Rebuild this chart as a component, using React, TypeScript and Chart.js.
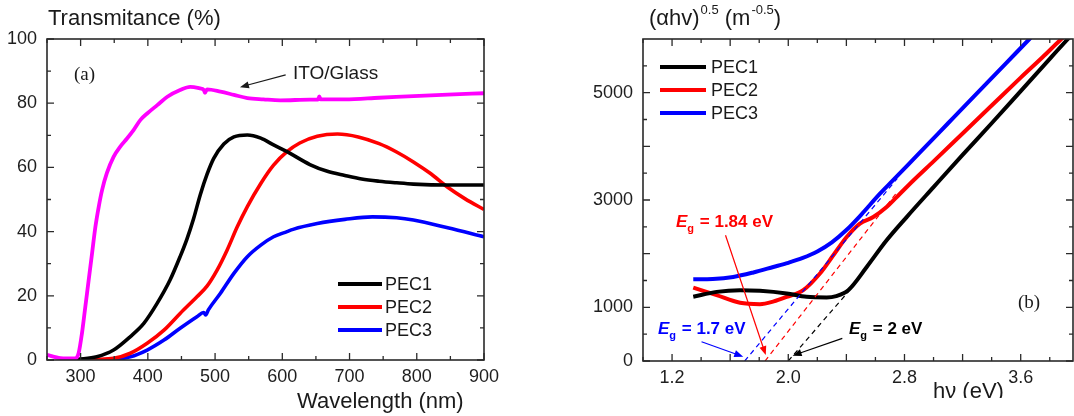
import React, { useEffect, useRef } from 'react';
import { Chart, registerables } from 'chart.js';
Chart.register(...registerables);

const SANS = "Arial, 'Liberation Sans', sans-serif";
const SERIF = "'Times New Roman', 'Liberation Serif', serif";

// ---------------- Panel (a): Transmittance vs wavelength ----------------
const itoWl = [250, 270, 292, 297, 302, 307, 312, 317, 322, 327, 332, 339, 349, 359, 369, 379, 389, 399, 414, 429, 448, 463, 478, 483, 485, 488, 508, 528, 548, 572, 597, 641, 653, 655, 657, 693, 744, 795, 846, 900];
const itoT = [1.6, 0.6, 0.5, 2.1, 8.3, 16.6, 24.9, 33.2, 41.5, 47.8, 53, 58.2, 63.3, 66.5, 69, 71.7, 74.8, 76.8, 79.4, 82, 84.1, 85.1, 84.6, 84.2, 83.2, 84.3, 83.6, 82.6, 81.6, 81.2, 80.9, 81.1, 81.1, 82.1, 81.2, 81.2, 81.7, 82.2, 82.7, 83.1];

const pec1Wl = [295, 324, 349, 374, 394, 414, 433, 448, 458, 468, 478, 488, 498, 513, 528, 548, 568, 587, 607, 641, 667, 693, 718, 744, 770, 795, 846, 900];
const pec1T = [0.2, 1.0, 3.1, 7.3, 11.4, 17.7, 24.9, 32.2, 37.6, 44, 51.5, 57.8, 62.8, 67.3, 69.5, 70.1, 69.1, 67, 64.9, 60.9, 58.8, 57.5, 56.4, 55.7, 55.2, 54.8, 54.5, 54.5];

const pec2Wl = [295, 324, 349, 374, 399, 424, 448, 473, 488, 503, 518, 533, 548, 568, 587, 607, 626, 652, 682, 713, 744, 770, 795, 821, 846, 872, 900];
const pec2T = [0.1, 0.2, 0.5, 2.1, 5.2, 9.3, 14.5, 19.7, 23.0, 28, 34.3, 41.5, 47.8, 55, 60.7, 64.9, 67.6, 69.7, 70.4, 69.5, 67.4, 64.8, 61.7, 58.0, 53.8, 50.2, 46.9];

const pec3Wl = [295, 349, 374, 399, 424, 448, 473, 483, 486, 490, 508, 528, 548, 568, 587, 607, 616, 652, 693, 734, 770, 795, 846, 900];
const pec3T = [0.0, 0.2, 1.0, 3.1, 6.2, 9.9, 13.5, 14.8, 14.0, 15.6, 20.8, 27, 32.2, 35.8, 38.4, 40, 40.7, 42.5, 43.8, 44.6, 44.3, 43.6, 41.2, 38.4];

const aXMajor = [300, 400, 500, 600, 700, 800, 900];
const aXMinor = [250, 350, 450, 550, 650, 750, 850];
const aYMajor = [0, 20, 40, 60, 80, 100];
const aYMinor = [10, 30, 50, 70, 90];

// ---------------- Panel (b): Tauc plot ----------------
const b1E = [1.346, 1.507, 1.668, 1.805, 1.989, 2.126, 2.264, 2.33, 2.413, 2.54, 2.677, 2.815, 3.0, 3.2, 3.4, 3.6, 3.8, 3.925, 3.96];
const b1Y = [1196, 1288, 1320, 1307, 1258, 1196, 1184, 1210, 1320, 1752, 2249, 2682, 3240, 3840, 4430, 5030, 5630, 6000, 6100];

const b2E = [1.346, 1.507, 1.668, 1.805, 1.9, 1.989, 2.103, 2.218, 2.31, 2.402, 2.493, 2.585, 2.677, 2.769, 2.861, 3.0, 3.2, 3.4, 3.6, 3.75, 3.88, 3.93];
const b2Y = [1369, 1227, 1084, 1059, 1110, 1195, 1320, 1630, 1970, 2310, 2559, 2682, 2868, 3117, 3364, 3720, 4240, 4760, 5280, 5660, 6000, 6120];

const b3E = [1.346, 1.48, 1.621, 1.76, 1.897, 2.0, 2.1, 2.2, 2.3, 2.4, 2.5, 2.631, 2.72, 2.9, 3.1, 3.3, 3.5, 3.66, 3.7];
const b3Y = [1524, 1530, 1567, 1650, 1752, 1830, 1920, 2040, 2210, 2440, 2720, 3117, 3364, 3870, 4430, 4990, 5550, 6000, 6110];

// linear extrapolations (band gap fits)
const fit1E = [2.0, 2.413];
const fit1Y = [0, 1290];
const fit2E = [1.84, 2.75];
const fit2Y = [0, 3150];
const fit3E = [1.7, 2.75];
const fit3Y = [0, 3400];

const bXMajor = [1.2, 2.0, 2.8, 3.6];
const bXMid = [1.6, 2.4, 3.2];
const bXMinor = [1.0, 1.4, 1.8, 2.2, 2.6, 3.0, 3.4, 3.8];
const bYMajor = [0, 1000, 3000, 5000];
const bYMid = [2000, 4000];
const bYMinor = [500, 1500, 2500, 3500, 4500, 5500];

const seriesNames = ['PEC1', 'PEC2', 'PEC3'];
const seriesColors = ['#000000', '#ff0000', '#0000ff'];
const itoColor = '#ff00ff';

const pts = (xs: number[], ys: number[]) => xs.map((x, i) => ({ x, y: ys[i] }));

function arrow(ctx: CanvasRenderingContext2D, x0: number, y0: number, x1: number, y1: number, color: string) {
  const ang = Math.atan2(y1 - y0, x1 - x0);
  const hl = 9, hw = 3.5;
  ctx.save();
  ctx.strokeStyle = color;
  ctx.fillStyle = color;
  ctx.lineWidth = 1.2;
  ctx.beginPath();
  ctx.moveTo(x0, y0);
  ctx.lineTo(x1 - Math.cos(ang) * hl * 0.8, y1 - Math.sin(ang) * hl * 0.8);
  ctx.stroke();
  ctx.beginPath();
  ctx.moveTo(x1, y1);
  ctx.lineTo(x1 - Math.cos(ang) * hl - Math.sin(ang) * hw, y1 - Math.sin(ang) * hl + Math.cos(ang) * hw);
  ctx.lineTo(x1 - Math.cos(ang) * hl + Math.sin(ang) * hw, y1 - Math.sin(ang) * hl - Math.cos(ang) * hw);
  ctx.closePath();
  ctx.fill();
  ctx.restore();
}

type TickSet = { v: number[]; len: number };

function framePlugin(ticksX: TickSet[], ticksY: TickSet[], legend: { x0: number; x1: number; ys: number[]; tx: number }, extra: (ctx: CanvasRenderingContext2D, chart: any) => void) {
  return {
    id: 'frameDeco',
    afterDatasetsDraw(chart: any) {
      const { ctx, chartArea: a, scales } = chart;
      const xs = scales.x, ys = scales.y;
      ctx.save();
      ctx.strokeStyle = '#2a2a2a';
      ctx.lineWidth = 1.6;
      ctx.strokeRect(a.left, a.top, a.right - a.left, a.bottom - a.top);
      ctx.lineWidth = 1.3;
      ctx.beginPath();
      ticksX.forEach((t) => t.v.forEach((v) => {
        const p = xs.getPixelForValue(v);
        if (p < a.left - 0.5 || p > a.right + 0.5) return;
        ctx.moveTo(p, a.bottom); ctx.lineTo(p, a.bottom - t.len);
        ctx.moveTo(p, a.top); ctx.lineTo(p, a.top + t.len);
      }));
      ticksY.forEach((t) => t.v.forEach((v) => {
        const p = ys.getPixelForValue(v);
        if (p < a.top - 0.5 || p > a.bottom + 0.5) return;
        ctx.moveTo(a.left, p); ctx.lineTo(a.left + t.len, p);
        ctx.moveTo(a.right, p); ctx.lineTo(a.right - t.len, p);
      }));
      ctx.stroke();
      // legend
      ctx.font = `18px ${SANS}`;
      ctx.textBaseline = 'middle';
      ctx.textAlign = 'left';
      seriesNames.forEach((n, i) => {
        ctx.strokeStyle = seriesColors[i];
        ctx.lineWidth = 4;
        ctx.beginPath();
        ctx.moveTo(legend.x0, legend.ys[i]);
        ctx.lineTo(legend.x1, legend.ys[i]);
        ctx.stroke();
        ctx.fillStyle = '#1a1a1a';
        ctx.fillText(n, legend.tx, legend.ys[i] + 1);
      });
      extra(ctx, chart);
      ctx.restore();
    },
  };
}

function drawEg(ctx: CanvasRenderingContext2D, x: number, base: number, value: string, color: string) {
  ctx.fillStyle = color;
  ctx.textBaseline = 'alphabetic';
  ctx.textAlign = 'left';
  ctx.font = `italic bold 17px ${SANS}`;
  ctx.fillText('E', x, base);
  let cx = x + ctx.measureText('E').width;
  ctx.font = `bold 11px ${SANS}`;
  ctx.fillText('g', cx, base + 5);
  cx += ctx.measureText('g').width + 1;
  ctx.font = `bold 17px ${SANS}`;
  ctx.fillText(` = ${value} eV`, cx, base);
}

const tickFont = { family: SANS, size: 18 };

function baseOptions(o: any) {
  return {
    responsive: false,
    maintainAspectRatio: false,
    animation: false,
    devicePixelRatio: 1,
    layout: { padding: o.padding },
    plugins: { legend: { display: false }, tooltip: { enabled: false }, title: { display: false } },
    elements: { point: { radius: 0 } },
    scales: {
      x: {
        type: 'linear',
        min: o.xMin,
        max: o.xMax,
        grid: { display: false, drawTicks: false },
        border: { display: false },
        ticks: { font: tickFont, color: '#1e1e1e', padding: 6, autoSkip: false, maxRotation: 0, callback: o.xFmt },
        afterBuildTicks: (s: any) => { s.ticks = o.xLabels.map((v: number) => ({ value: v })); },
        afterFit: (s: any) => { s.height = o.xH; },
      },
      y: {
        type: 'linear',
        min: o.yMin,
        max: o.yMax,
        grid: { display: false, drawTicks: false },
        border: { display: false },
        ticks: { font: tickFont, color: '#1e1e1e', padding: 10, autoSkip: false, callback: (v: number) => String(v) },
        afterBuildTicks: (s: any) => { s.ticks = o.yLabels.map((v: number) => ({ value: v })); },
        afterFit: (s: any) => { s.width = o.yW; },
      },
    },
  };
}

const curve = (data: any, color: string, w = 3.6) => ({
  data,
  borderColor: color,
  backgroundColor: color,
  borderWidth: w,
  pointRadius: 0,
  cubicInterpolationMode: 'monotone',
  fill: false,
  clip: 0,
});

const dashed = (data: any, color: string) => ({
  data,
  borderColor: color,
  borderWidth: 1.2,
  borderDash: [5, 4],
  pointRadius: 0,
  tension: 0,
  fill: false,
  clip: 0,
});

export default function App() {
  const refA = useRef<HTMLCanvasElement>(null);
  const refB = useRef<HTMLCanvasElement>(null);

  useEffect(() => {
    const pluginA = framePlugin(
      [{ v: aXMajor, len: 7 }, { v: aXMinor, len: 4 }],
      [{ v: aYMajor, len: 7 }, { v: aYMinor, len: 4 }],
      { x0: 338, x1: 382, ys: [284, 307, 330], tx: 385 },
      (ctx, chart) => {
        const xs = chart.scales.x, ys = chart.scales.y;
        ctx.fillStyle = '#1a1a1a';
        ctx.textAlign = 'left';
        ctx.textBaseline = 'alphabetic';
        ctx.font = `22px ${SANS}`;
        ctx.fillText('Transmitance (%)', 48, 25);
        ctx.fillText('Wavelength (nm)', 297, 408);
        ctx.font = `19px ${SERIF}`;
        ctx.textBaseline = 'middle';
        ctx.fillText('(a)', 74, 75);
        ctx.font = `19px ${SANS}`;
        ctx.fillText('ITO/Glass', 293, 74);
        arrow(ctx, xs.getPixelForValue(605), ys.getPixelForValue(88.8), xs.getPixelForValue(537), ys.getPixelForValue(85), '#1a1a1a');
      }
    );
    const chartA = new Chart(refA.current as HTMLCanvasElement, {
      type: 'line',
      data: {
        datasets: [
          curve(pts(itoWl, itoT), itoColor, 3.8),
          curve(pts(pec1Wl, pec1T), seriesColors[0]),
          curve(pts(pec2Wl, pec2T), seriesColors[1]),
          curve(pts(pec3Wl, pec3T), seriesColors[2]),
        ],
      },
      options: baseOptions({
        padding: { left: 0, right: 56, top: 39, bottom: 0 },
        xMin: 250, xMax: 900, yMin: 0, yMax: 100,
        xLabels: aXMajor, yLabels: aYMajor,
        xFmt: (v: number) => String(v),
        xH: 56, yW: 47,
      }) as any,
      plugins: [pluginA as any],
    });

    const pluginB = framePlugin(
      [{ v: bXMajor, len: 7 }, { v: bXMid, len: 7 }, { v: bXMinor, len: 4 }],
      [{ v: bYMajor, len: 7 }, { v: bYMid, len: 7 }, { v: bYMinor, len: 4 }],
      { x0: 120, x1: 166, ys: [67, 90, 113], tx: 171 },
      (ctx, chart) => {
        const xs = chart.scales.x, ys = chart.scales.y;
        ctx.fillStyle = '#1a1a1a';
        ctx.textAlign = 'left';
        ctx.textBaseline = 'alphabetic';
        // y title with superscripts
        let cx = 109;
        ctx.font = `22px ${SANS}`;
        ctx.fillText('(\u03b1hv)', cx, 25);
        cx += ctx.measureText('(\u03b1hv)').width + 1;
        ctx.font = `13px ${SANS}`;
        ctx.fillText('0.5', cx, 14);
        cx += ctx.measureText('0.5').width;
        ctx.font = `22px ${SANS}`;
        ctx.fillText(' (m', cx, 25);
        cx += ctx.measureText(' (m').width + 1;
        ctx.font = `13px ${SANS}`;
        ctx.fillText('-0.5', cx, 14);
        cx += ctx.measureText('-0.5').width;
        ctx.font = `22px ${SANS}`;
        ctx.fillText(')', cx, 25);
        // x title (cropped at bottom as in the figure)
        ctx.save();
        ctx.beginPath();
        ctx.rect(380, 370, 120, 28);
        ctx.clip();
        ctx.fillText('h\u03bd (eV)', 393, 398);
        ctx.restore();
        ctx.font = `19px ${SERIF}`;
        ctx.textBaseline = 'middle';
        ctx.fillText('(b)', 478, 303);
        drawEg(ctx, 136, 227, '1.84', seriesColors[1]);
        drawEg(ctx, 118, 334, '1.7', seriesColors[2]);
        drawEg(ctx, 309, 334, '2', seriesColors[0]);
        const P = (e: number, v: number): [number, number] => [xs.getPixelForValue(e), ys.getPixelForValue(v)];
        const r0 = P(1.568, 2342), r1 = P(1.845, 111);
        arrow(ctx, r0[0], r0[1], r1[0], r1[1], seriesColors[1]);
        const u0 = P(1.403, 359), u1 = P(1.69, 80);
        arrow(ctx, u0[0], u0[1], u1[0], u1[1], seriesColors[2]);
        const k0 = P(2.372, 422), k1 = P(2.03, 100);
        arrow(ctx, k0[0], k0[1], k1[0], k1[1], seriesColors[0]);
      }
    );
    const chartB = new Chart(refB.current as HTMLCanvasElement, {
      type: 'line',
      data: {
        datasets: [
          dashed(pts(fit1E, fit1Y), seriesColors[0]),
          dashed(pts(fit2E, fit2Y), seriesColors[1]),
          dashed(pts(fit3E, fit3Y), seriesColors[2]),
          curve(pts(b1E, b1Y), seriesColors[0], 4),
          curve(pts(b2E, b2Y), seriesColors[1], 4),
          curve(pts(b3E, b3Y), seriesColors[2], 4),
        ],
      },
      options: baseOptions({
        padding: { left: 0, right: 1, top: 39, bottom: 0 },
        xMin: 1.0, xMax: 3.96, yMin: 0, yMax: 6000,
        xLabels: bXMajor, yLabels: bYMajor,
        xFmt: (v: number) => v.toFixed(1),
        xH: 55, yW: 103,
      }) as any,
      plugins: [pluginB as any],
    });

    return () => {
      chartA.destroy();
      chartB.destroy();
    };
  }, []);

  return (
    <div style={{ position: 'fixed', left: 0, top: 0, width: 1074, height: 416, background: '#fff' }}>
      <canvas ref={refA} width={540} height={416} style={{ position: 'absolute', left: 0, top: 0, width: 540, height: 416 }} />
      <canvas ref={refB} width={534} height={416} style={{ position: 'absolute', left: 540, top: 0, width: 534, height: 416 }} />
    </div>
  );
}
